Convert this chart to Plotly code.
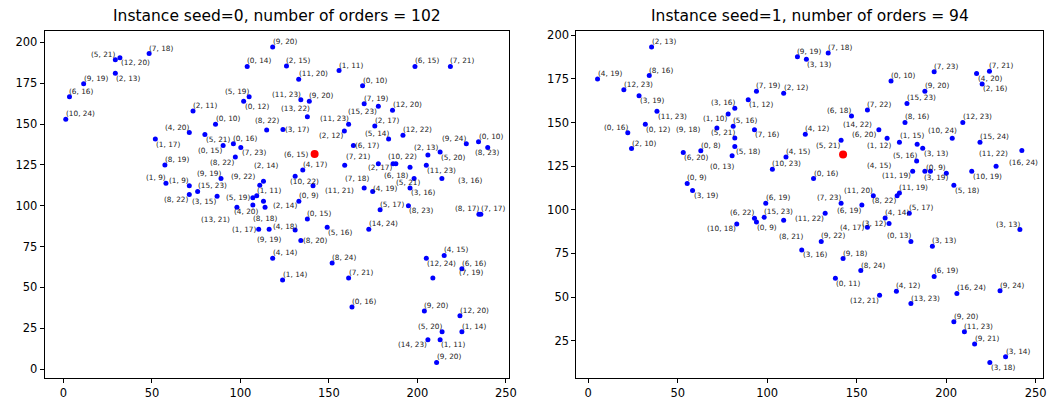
import plotly.graph_objects as go

# ---------------- data: instance seed=0 ----------------
x0 = [29.3, 31.9, 48.4, 29.3, 11.4, 3.4, 1.3, 103.8, 118.2, 104.9,
      101.8, 73.2, 85.9, 114.8, 71.1, 51.9, 79.9, 90.2, 96.0, 100.2,
      97.1, 57.3, 89.0, 113.0, 110.9, 57.9, 71.1, 75.8, 71.1, 86.8,
      109.2, 107.0, 113.0, 113.9, 107.0, 98.0, 110.3, 116.2, 130.9, 134.1,
      137.8, 149.0, 172.5, 118.2, 151.8, 123.8, 161.1, 163.0, 178.9, 194.9,
      234.7, 235.8, 205.0, 215.1, 208.7, 225.1, 213.8, 198.1, 195.8, 195.8,
      205.0, 186.2, 187.8, 177.9, 169.9, 174.7, 130.9, 141.0, 133.0, 158.9,
      135.2, 205.9, 212.8, 227.6, 234.5, 239.7, 163.8, 183.7, 191.8, 158.7,
      161.1, 175.9, 169.9, 177.9, 185.9, 169.0, 134.1, 138.9, 137.8, 124.0,
      126.0, 132.9, 155.7, 198.6, 218.6, 203.9, 224.0, 213.9, 225.1, 205.9,
      212.8, 210.8]
y0 = [189.4, 190.6, 193.1, 181.1, 174.6, 166.7, 152.9, 185.2, 197.1, 166.7,
      163.9, 158.0, 149.9, 146.4, 144.8, 140.8, 143.6, 136.9, 137.9, 135.6,
      129.8, 124.9, 116.6, 115.0, 112.5, 113.7, 112.2, 108.7, 106.9, 105.8,
      106.1, 104.9, 102.8, 99.0, 100.4, 99.1, 85.6, 85.6, 85.2, 78.7,
      91.8, 86.8, 85.6, 67.8, 64.9, 54.6, 55.8, 38.0, 97.6, 100.0,
      94.7, 94.7, 67.9, 69.6, 55.8, 61.4, 116.6, 116.6, 110.9, 123.5,
      124.7, 125.7, 125.7, 125.7, 110.9, 108.7, 118.0, 112.2, 102.8, 124.7,
      121.9, 131.0, 132.8, 137.9, 139.1, 135.6, 136.9, 140.8, 143.2, 145.8,
      149.9, 148.8, 162.4, 160.8, 158.4, 173.4, 164.8, 163.9, 154.5, 146.6,
      185.5, 177.4, 182.7, 185.2, 185.2, 35.5, 32.7, 22.9, 22.9, 17.9,
      17.9, 4.1]
labels0 = ["(5, 21)", "(12, 20)", "(7, 18)", "(2, 13)", "(9, 19)", "(6, 16)", "(10, 24)", "(0, 14)", "(9, 20)", "(5, 19)",
           "(0, 12)", "(2, 11)", "(0, 10)", "(8, 22)", "(4, 20)", "(1, 17)", "(5, 21)", "(0, 15)", "(0, 16)", "(7, 23)",
           "(8, 22)", "(8, 19)", "(9, 19)", "(2, 14)", "(9, 22)", "(1, 9)", "(1, 9)", "(15, 23)", "(8, 22)", "(3, 15)",
           "(1, 11)", "(5, 19)", "(2, 14)", "(8, 18)", "(13, 21)", "(4, 20)", "(1, 17)", "(9, 19)", "(4, 18)", "(8, 20)",
           "(0, 15)", "(5, 16)", "(14, 24)", "(4, 14)", "(8, 24)", "(1, 14)", "(7, 21)", "(0, 16)", "(5, 17)", "(8, 23)",
           "(8, 17)", "(7, 17)", "(12, 24)", "(4, 15)", "(7, 19)", "(6, 16)", "(3, 16)", "(5, 21)", "(3, 16)", "(6, 18)",
           "(11, 23)", "(10, 22)", "", "(2, 17)", "(7, 18)", "(4, 19)", "(10, 22)", "(11, 21)", "(0, 9)", "(7, 21)",
           "(4, 17)", "(2, 13)", "(5, 20)", "(9, 24)", "(0, 10)", "(8, 23)", "(6, 17)", "(5, 14)", "(12, 22)", "(2, 12)",
           "(11, 23)", "(2, 17)", "(7, 19)", "(15, 23)", "(12, 20)", "(0, 10)", "(11, 23)", "(9, 20)", "(13, 22)", "(3, 17)",
           "(2, 15)", "(11, 20)", "(1, 11)", "(6, 15)", "(7, 21)", "(9, 20)", "(12, 20)", "(5, 20)", "(1, 14)", "(14, 23)",
           "(1, 11)", "(9, 20)"]
depot0_x = [141.9]
depot0_y = [131.6]
depot0_label = ["(6, 15)"]

# ---------------- data: instance seed=1 ----------------
x1 = [35.4, 34.1, 5.2, 19.9, 28.4, 38.4, 22.1, 31.9, 24.2, 71.9,
      78.2, 81.9, 81.0, 81.9, 81.9, 80.4, 89.4, 94.0, 109.2, 92.9,
      62.9, 53.1, 55.3, 58.3, 102.9, 110.5, 99.2, 116.9, 134.1, 121.9,
      169.2, 193.3, 188.1, 178.1, 224.2, 217.0, 220.1, 147.1, 156.0, 177.0,
      209.3, 162.4, 167.0, 173.9, 183.8, 186.9, 183.5, 203.4, 218.9, 227.9,
      242.3, 214.3, 200.1, 191.2, 188.1, 181.3, 204.3, 141.3, 121.3, 125.9,
      159.3, 172.6, 173.9, 141.3, 152.9, 132.4, 165.9, 168.1, 156.0, 179.4,
      180.3, 192.3, 241.2, 130.2, 119.3, 142.4, 152.3, 138.1, 193.3, 172.2,
      162.8, 180.3, 206.0, 230.1, 204.3, 210.2, 215.9, 233.2, 224.4, 98.3,
      92.9, 94.0, 83.0, 109.2]
y1 = [193.2, 176.9, 174.9, 168.8, 165.3, 156.4, 144.1, 149.0, 135.1, 146.8,
      154.9, 158.1, 147.9, 141.1, 136.2, 130.9, 163.0, 167.9, 166.7, 145.8,
      133.8, 132.8, 115.1, 111.0, 123.2, 130.2, 103.8, 187.7, 189.8, 186.2,
      173.8, 179.0, 167.9, 160.9, 179.4, 178.1, 172.1, 153.7, 157.1, 150.0,
      150.0, 145.8, 141.0, 138.7, 137.6, 135.3, 127.9, 141.0, 138.7, 124.9,
      133.9, 122.1, 120.9, 122.1, 122.1, 122.1, 114.1, 139.8, 143.2, 117.9,
      108.1, 108.1, 109.6, 103.8, 102.7, 98.0, 95.3, 92.1, 90.0, 98.0,
      81.9, 79.1, 88.7, 81.9, 77.0, 72.1, 65.2, 60.8, 61.8, 53.3,
      51.0, 46.3, 52.1, 53.6, 35.9, 30.1, 23.1, 15.9, 12.6, 95.7,
      95.1, 93.0, 91.9, 94.0]
labels1 = ["(2, 13)", "(8, 16)", "(4, 19)", "(12, 23)", "(3, 19)", "(11, 23)", "(0, 16)", "(0, 12)", "(2, 10)", "(9, 18)",
           "(1, 10)", "(3, 16)", "(5, 16)", "(5, 21)", "(5, 18)", "(0, 13)", "(1, 12)", "(7, 19)", "(2, 12)", "(7, 16)",
           "(0, 8)", "(6, 20)", "(0, 9)", "(3, 19)", "(10, 23)", "(4, 15)", "(6, 19)", "(9, 19)", "(7, 18)", "(3, 13)",
           "(0, 10)", "(7, 23)", "(9, 20)", "(15, 23)", "(7, 21)", "(4, 20)", "(2, 16)", "(6, 18)", "(7, 22)", "(8, 16)",
           "(12, 23)", "(14, 22)", "(6, 20)", "(1, 12)", "(1, 15)", "(3, 13)", "(5, 16)", "(10, 24)", "(15, 24)", "(11, 22)",
           "(16, 24)", "(10, 19)", "(0, 9)", "(3, 19)", "(4, 15)", "(11, 19)", "(5, 18)", "(5, 21)", "(4, 12)", "(0, 16)",
           "(11, 20)", "(8, 22)", "(11, 19)", "(7, 23)", "(6, 19)", "(11, 22)", "(4, 14)", "(3, 12)", "(4, 17)", "(5, 17)",
           "(0, 13)", "(3, 13)", "(3, 13)", "(9, 22)", "(3, 16)", "(9, 18)", "(8, 24)", "(0, 11)", "(6, 19)", "(4, 12)",
           "(12, 21)", "(13, 23)", "(16, 24)", "(9, 24)", "(9, 20)", "(11, 23)", "(9, 21)", "(3, 14)", "(3, 18)", "(15, 23)",
           "(6, 22)", "(0, 9)", "(10, 18)", "(8, 21)"]
depot1_x = [142.4]
depot1_y = [131.7]

titles = ["Instance seed=0, number of orders = 102", "Instance seed=1, number of orders = 94"]

# ---------------- label placement (style only) ----------------
# named placements -> (anchor, x shift px, y shift px)
PLACE = {
    "TR": ("left", 0, 5.5), "TL": ("right", 0, 5.5),
    "BR": ("left", 1, -5), "BL": ("right", -1, -5),
    "MR": ("left", 2, 0), "ML": ("right", -3, 0),
    "TC": ("center", 0, 9), "BC": ("center", 0, -9),
}
TR, TL, BR, BL, MR, ML, TC, BC = "TR", "TL", "BR", "BL", "MR", "ML", "TC", "BC"
pos0 = [TL, BR, TR, BR, TR, TR, TR, TR, TR, TL,
        BR, TR, TR, TC, TL, BR, BR, BL, TR, BR,
        BL, TR, TL, TC, TL, TL, TL, TR, BL, BL,
        TR, ML, MR, BC, BL, BR, ML, BC, TL, MR,
        TR, BR, TR, TR, TR, TR, TR, TR, TR, BR,
        TL, TR, BR, TR, MR, TR, MR, BL, BR, BL,
        BR, TR, TR, BC, TL, TR, BC, BR, TR, TR,
        TR, TL, BR, TL, TR, BC, MR, TL, TR, BL,
        TL, TR, TR, BL, TR, TR, TL, TR, TL, MR,
        TR, TR, TR, TR, TR, TR, TR, TL, TR, BL,
        BR, TR]
pos0_fix = {23: ("center", 3, 16), 24: ("right", -5, 9), 32: ("left", 10, -4.5),
            33: ("center", 0, -11), 34: ("right", -23, -14), 35: ("left", -3, -4),
            37: ("center", 0, -10.5), 38: ("right", 2, 3), 54: ("left", 26, 5),
            56: ("left", 16, -2), 57: ("center", -6, -4), 59: ("right", -2, -8),
            61: ("left", -5, 7), 63: ("center", 2, -4), 64: ("right", 5, 9.5),
            65: ("left", 0, 3), 66: ("center", 9, -5), 67: ("left", 12, -5),
            69: ("left", 1, 9), 71: ("right", 10, 8), 75: ("center", -1, -4.5),
            88: ("right", 3, 8)}
pos1 = [TR, TR, TR, TR, BR, BR, TL, BR, TR, ML,
        BL, TL, TR, TL, BR, BL, BR, TR, TR, BR,
        TR, BR, TR, BR, TR, TR, TR, TR, TR, BR,
        TR, TR, TR, TR, TR, BR, BR, TL, TR, TR,
        TR, TL, ML, BL, TC, BR, TL, TL, TR, TL,
        BC, BR, TL, BR, BL, BL, BR, BL, TR, TR,
        TL, BL, TR, TL, BL, BL, TR, ML, ML, TR,
        TL, TR, TL, TR, BR, TR, TR, BR, TR, TR,
        BL, TR, TR, TR, TR, TR, TR, TR, BR, TR,
        TL, BR, BL, BR]
pos1_fix = {9: ("right", -17, -1), 15: ("right", 2, -11), 41: ("right", -7, 5.5),
            42: ("right", -11, 4), 43: ("right", -8, -3.5), 44: ("center", -5, 8.5),
            47: ("right", 5, 8), 49: ("right", 12, 13), 50: ("center", 2, -12),
            53: ("left", -6, -6), 54: ("right", -34, 6), 55: ("right", -2, -4),
            93: ("left", -5, -16)}
depot0_pos = [("right", -7, 0)]


def resolve(places, fixes):
    out = []
    for i, p in enumerate(places):
        out.append(fixes.get(i, PLACE[p]))
    return out


def padded(vals, frac=0.05):
    lo, hi = min(vals), max(vals)
    d = (hi - lo) * frac
    return [lo - d, hi + d]


FONT = "DejaVu Sans"
lab_font = dict(family=FONT, size=7.3, color="#222222")


def label_annotations(xs, ys, texts, places, xref, yref):
    out = []
    for xv, yv, t, (anchor, dx, dy) in zip(xs, ys, texts, places):
        if not t:
            continue
        out.append(dict(x=xv, y=yv, xref=xref, yref=yref, text=t, showarrow=False,
                        xanchor=anchor, yanchor="middle", xshift=dx, yshift=dy,
                        borderpad=0, borderwidth=0, font=lab_font))
    return out


fig = go.Figure()
fig.add_trace(go.Scatter(x=x0, y=y0, mode="markers", marker=dict(color="#0000ff", size=5),
                         xaxis="x", yaxis="y", showlegend=False, hoverinfo="skip"))
fig.add_trace(go.Scatter(x=depot0_x, y=depot0_y, mode="markers", marker=dict(color="#ff0000", size=8),
                         xaxis="x", yaxis="y", showlegend=False, hoverinfo="skip"))
fig.add_trace(go.Scatter(x=x1, y=y1, mode="markers", marker=dict(color="#0000ff", size=5),
                         xaxis="x2", yaxis="y2", showlegend=False, hoverinfo="skip"))
fig.add_trace(go.Scatter(x=depot1_x, y=depot1_y, mode="markers", marker=dict(color="#ff0000", size=8),
                         xaxis="x2", yaxis="y2", showlegend=False, hoverinfo="skip"))

W, H = 1060, 401
top_px, bot_px = 28.5, 378.0
ydom = [1 - bot_px / H, 1 - top_px / H]
xdom0 = [45.0 / W, 512.7 / W]
xdom1 = [580.7 / W, 1051.0 / W]

axis_common = dict(showgrid=False, zeroline=False, showline=True, mirror=True,
                   linecolor="black", linewidth=1, ticks="outside", ticklen=4,
                   tickwidth=1, tickcolor="black",
                   tickfont=dict(family=FONT, size=11.5, color="black"))

annotations = []
annotations += label_annotations(x0, y0, labels0, resolve(pos0, pos0_fix), "x", "y")
annotations += label_annotations(depot0_x, depot0_y, depot0_label, depot0_pos, "x", "y")
annotations += label_annotations(x1, y1, labels1, resolve(pos1, pos1_fix), "x2", "y2")
for i, xd in enumerate([xdom0, xdom1]):
    annotations.append(dict(text=titles[i], x=(xd[0] + xd[1]) / 2, y=1 - 13.5 / H,
                            xref="paper", yref="paper", xanchor="center", yanchor="middle",
                            showarrow=False, font=dict(family=FONT, size=15.5, color="black")))

fig.update_layout(
    width=W, height=H, autosize=False,
    margin=dict(l=0, r=0, t=0, b=0),
    paper_bgcolor="white", plot_bgcolor="white",
    xaxis=dict(domain=xdom0, range=padded(x0), tickvals=[0, 50, 100, 150, 200, 250], anchor="y", **axis_common),
    yaxis=dict(domain=ydom, range=padded(y0), tickvals=[0, 25, 50, 75, 100, 125, 150, 175, 200], anchor="x", **axis_common),
    xaxis2=dict(domain=xdom1, range=padded(x1), tickvals=[0, 50, 100, 150, 200, 250], anchor="y2", **axis_common),
    yaxis2=dict(domain=ydom, range=padded(y1), tickvals=[25, 50, 75, 100, 125, 150, 175, 200], anchor="x2", **axis_common),
    annotations=annotations,
)

fig.write_html("out.html")
